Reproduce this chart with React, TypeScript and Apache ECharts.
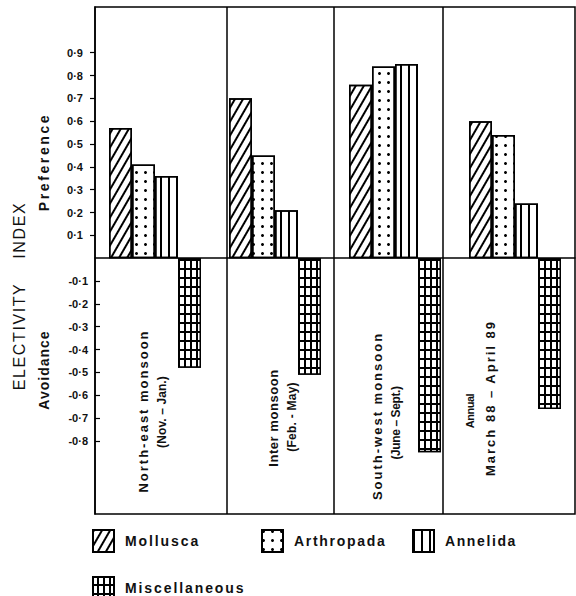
import React, { useEffect, useRef } from "react";
import * as echarts from "echarts";

// ---------- data ----------
const categories = [
  "North-east monsoon (Nov. – Jan.)",
  "Inter monsoon (Feb. - May)",
  "South-west monsoon (June – Sept.)",
  "Annual March 88 – April 89",
];
const categoryLabelLines = [
  ["North-east monsoon", "(Nov. – Jan.)"],
  ["Inter monsoon", "(Feb. - May)"],
  ["South-west monsoon", "(June – Sept.)"],
  ["Annual", "March 88 – April 89"],
];
const seriesNames = ["Mollusca", "Arthropada", "Annelida", "Miscellaneous"];
const mollusca = [0.57, 0.7, 0.76, 0.6];
const arthropada = [0.41, 0.45, 0.84, 0.54];
const annelida = [0.36, 0.21, 0.85, 0.24];
const miscellaneous = [-0.48, -0.51, -0.85, -0.66];
const positiveTicks = [0.1, 0.2, 0.3, 0.4, 0.5, 0.6, 0.7, 0.8, 0.9];
const negativeTicks = [-0.1, -0.2, -0.3, -0.4, -0.5, -0.6, -0.7, -0.8];
const dividerPositions = [1.1, 1.99, 2.9]; // in category units on hidden value axis

// ---------- layout / style ----------
const FONT = "Liberation Sans, Arial, sans-serif";
const INK = "#111";
const labelPos = [
  [{ x: 143, y: 411, size: 13 }, { x: 162, y: 412, size: 12 }],
  [{ x: 273, y: 418, size: 13 }, { x: 292, y: 417, size: 12 }],
  [{ x: 377, y: 416, size: 13 }, { x: 396, y: 423, size: 12 }],
  [{ x: 470, y: 411, size: 11 }, { x: 490, y: 398, size: 13 }],
];
const SPACING: Record<string, number> = {
  "ELECTIVITY    INDEX": 1.6,
  Preference: 2.6,
  Avoidance: 1.0,
  "North-east monsoon": 2.0,
  "(Nov. – Jan.)": 0.1,
  "Inter monsoon": 0.55,
  "(Feb. - May)": 0.25,
  "South-west monsoon": 2.0,
  "(June – Sept.)": -0.4,
  Annual: -0.5,
  "March 88 – April 89": 2.0,
  Mollusca: 1.9,
  Arthropada: 1.7,
  Annelida: 1.6,
  Miscellaneous: 1.9,
};

const fills = ["#fff", "#fff", "#fff", "#000"];
const decals: any[] = [
  {
    symbol: "rect",
    symbolSize: 1,
    color: "#000",
    dashArrayX: [1, 0],
    dashArrayY: [1.3, 4.6],
    rotation: -Math.PI / 3,
  },
  {
    symbol: "circle",
    symbolSize: 1,
    color: "#000",
    dashArrayX: [2.1, 5.4],
    dashArrayY: [2.1, 5.4],
  },
  {
    symbol: "rect",
    symbolSize: 1,
    color: "#000",
    dashArrayX: [1.4, 5.3],
    dashArrayY: [10, 0],
  },
  {
    symbol: "rect",
    symbolSize: 1,
    color: "#fff",
    dashArrayX: [3.7, 1.3],
    dashArrayY: [6.1, 1.3],
  },
];

const fmt = (v: number) => v.toFixed(1).replace(".", "·");

function applySpacing(el: HTMLElement | null) {
  if (!el) return;
  el.querySelectorAll("text").forEach((t) => {
    const s = SPACING[t.textContent ?? ""];
    if (s !== undefined) t.setAttribute("letter-spacing", String(s));
  });
}

export default function App() {
  const ref = useRef<HTMLDivElement>(null);
  useEffect(() => {
    if (!ref.current) return;
    const chart = echarts.init(ref.current, undefined, { renderer: "svg" });
    const data = [mollusca, arthropada, annelida, miscellaneous];

    const barSeries = data.map((d, i) => ({
      name: seriesNames[i],
      type: "bar",
      xAxisIndex: 0,
      yAxisIndex: 0,
      data: d,
      barWidth: 23,
      barGap: "0%",
      itemStyle: {
        color: fills[i],
        borderColor: "#000",
        borderWidth: 1.5,
        decal: decals[i],
      },
      emphasis: { disabled: true },
    }));

    const legendPos = [
      { left: 92, top: 529 },
      { left: 261, top: 529 },
      { left: 412, top: 529 },
      { left: 92, top: 576 },
    ];

    const graphics: any[] = [];
    categoryLabelLines.forEach((lines, ci) => {
      lines.forEach((line, li) => {
        const p = labelPos[ci][li];
        graphics.push({
          type: "text",
          x: p.x,
          y: p.y,
          rotation: Math.PI / 2,
          style: {
            text: line,
            fill: INK,
            font: `bold ${p.size}px ${FONT}`,
            align: "center",
            verticalAlign: "middle",
          },
        });
      });
    });
    graphics.push(
      {
        type: "text",
        x: 19,
        y: 296,
        rotation: Math.PI / 2,
        style: {
          text: "ELECTIVITY    INDEX",
          fill: INK,
          font: `16px ${FONT}`,
          align: "center",
          verticalAlign: "middle",
        },
      },
      {
        type: "text",
        x: 44,
        y: 162,
        rotation: Math.PI / 2,
        style: {
          text: "Preference",
          fill: INK,
          font: `bold 14px ${FONT}`,
          align: "center",
          verticalAlign: "middle",
        },
      },
      {
        type: "text",
        x: 44,
        y: 370,
        rotation: Math.PI / 2,
        style: {
          text: "Avoidance",
          fill: INK,
          font: `bold 14px ${FONT}`,
          align: "center",
          verticalAlign: "middle",
        },
      }
    );

    const yBase = {
      type: "value",
      position: "left",
      min: -1.12,
      max: 1.1,
      splitLine: { show: false },
      axisLabel: {
        color: INK,
        fontSize: 11,
        fontWeight: "bold",
        fontFamily: FONT,
        formatter: (v: number) => fmt(v),
      },
    };

    chart.setOption({
      animation: false,
      grid: {
        left: 95,
        right: 1,
        top: 7,
        bottom: 82,
        outerBoundsMode: "none",
        containLabel: false,
        show: true,
        borderColor: "#000",
        borderWidth: 1.5,
        backgroundColor: "transparent",
      },
      xAxis: [
        {
          type: "category",
          data: categories,
          axisLine: { onZero: true, lineStyle: { color: "#000", width: 1.5 } },
          axisTick: { show: false },
          axisLabel: { show: false },
          splitLine: { show: false },
        },
        {
          type: "value",
          min: 0,
          max: 4,
          show: false,
        },
      ],
      yAxis: [
        {
          ...yBase,
          axisLine: { show: true, onZero: false, lineStyle: { color: "#000", width: 1.5 } },
          axisTick: {
            show: true,
            inside: false,
            length: 5,
            customValues: positiveTicks,
            lineStyle: { color: "#000", width: 1.2 },
          },
          axisLabel: { ...yBase.axisLabel, margin: 12, customValues: positiveTicks },
        },
        {
          ...yBase,
          offset: 0,
          axisLine: { show: false, onZero: false },
          axisTick: {
            show: true,
            inside: true,
            length: 5,
            customValues: negativeTicks,
            lineStyle: { color: "#000", width: 1.2 },
          },
          axisLabel: { ...yBase.axisLabel, margin: 7, customValues: negativeTicks },
        },
      ],
      legend: seriesNames.map((n, i) => ({
        data: [n],
        left: legendPos[i].left,
        top: legendPos[i].top,
        padding: 0,
        icon: "rect",
        itemWidth: 21,
        itemHeight: 22,
        selectedMode: false,
        textStyle: {
          color: INK,
          fontSize: 14,
          fontWeight: "bold",
          fontFamily: FONT,
          padding: [0, 0, 0, 6],
        },
      })),
      series: [
        ...barSeries,
        {
          type: "line",
          xAxisIndex: 1,
          yAxisIndex: 0,
          data: [[0, 0]],
          showSymbol: false,
          lineStyle: { width: 0 },
          silent: true,
          markLine: {
            silent: true,
            symbol: "none",
            label: { show: false },
            lineStyle: { color: "#000", type: "solid", width: 1.5 },
            data: dividerPositions.map((v) => ({ xAxis: v })),
          },
        },
      ],
      graphic: graphics,
    });
    applySpacing(ref.current);
    chart.on("finished", () => applySpacing(ref.current));
    const t = setTimeout(() => applySpacing(ref.current), 50);
    return () => {
      clearTimeout(t);
      chart.dispose();
    };
  }, []);
  return (
    <div
      ref={ref}
      style={{ position: "absolute", left: 0, top: 0, width: 576, height: 596, background: "#fff" }}
    />
  );
}
